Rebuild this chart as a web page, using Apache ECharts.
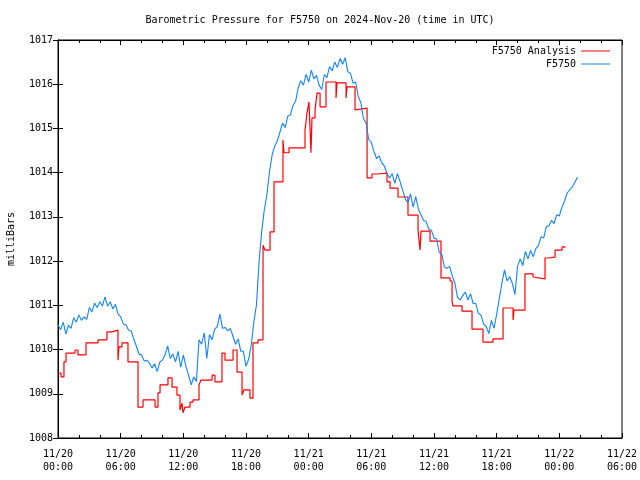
<!DOCTYPE html>
<html>
<head>
<meta charset="utf-8">
<script src="https://cdn.jsdelivr.net/npm/echarts@6/dist/echarts.min.js"></script>
<style>html,body{margin:0;padding:0;background:#fff}#c{width:640px;height:480px}</style>
</head>
<body>
<div id="c"></div>
<script>
// Hours since 2024-11-20 00:00 UTC
var xTickHours = [0, 6, 12, 18, 24, 30, 36, 42, 48, 54];
var seriesNames = ['F5750 Analysis', 'F5750'];

// F5750 observations, every 15 minutes starting 11/20 00:00
var blueStepHours = 0.25;
var blueValues = [
1010.56,1010.45,1010.62,1010.35,1010.55,1010.48,1010.72,1010.62,1010.78,1010.66,
1010.74,1010.68,1010.95,1010.85,1011.05,1010.95,1011.08,1010.98,1011.19,1010.98,
1011.08,1010.92,1011.02,1010.80,1010.74,1010.58,1010.56,1010.44,1010.42,1010.24,
1010.08,1009.90,1009.88,1009.74,1009.76,1009.70,1009.58,1009.68,1009.50,1009.72,
1009.76,1009.88,1010.08,1009.80,1009.90,1009.72,1009.96,1009.60,1009.88,1009.62,
1009.42,1009.20,1009.38,1009.28,1010.22,1010.12,1010.38,1009.80,1010.34,1010.22,
1010.46,1010.52,1010.80,1010.48,1010.50,1010.42,1010.48,1010.30,1010.12,1010.24,
1009.96,1009.96,1009.62,1009.78,1010.10,1010.62,1011.01,1011.98,1012.66,1013.16,
1013.50,1014.02,1014.40,1014.60,1014.72,1014.92,1015.12,1015.02,1015.28,1015.30,
1015.52,1015.62,1015.92,1016.08,1015.98,1016.22,1016.05,1016.32,1016.12,1016.20,
1015.98,1015.88,1016.22,1016.15,1016.40,1016.30,1016.50,1016.38,1016.58,1016.45,
1016.60,1016.28,1016.25,1016.02,1016.05,1015.72,1015.58,1015.22,1015.12,1014.75,
1014.68,1014.48,1014.32,1014.38,1014.22,1014.15,1013.98,1013.88,1013.98,1013.76,
1013.98,1013.80,1013.60,1013.40,1013.32,1013.52,1013.22,1013.46,1013.18,1013.05,
1012.92,1012.90,1012.72,1012.70,1012.52,1012.50,1012.20,1012.15,1011.86,1011.84,
1011.88,1011.66,1011.50,1011.18,1011.12,1011.22,1011.30,1011.12,1011.26,1011.04,
1011.04,1010.82,1010.78,1010.58,1010.52,1010.36,1010.66,1010.48,1010.80,1011.15,
1011.50,1011.80,1011.55,1011.65,1011.50,1011.24,1011.88,1012.05,1011.90,1012.22,
1012.05,1012.24,1012.10,1012.28,1012.35,1012.55,1012.52,1012.78,1012.80,1012.92,
1012.85,1013.05,1013.02,1013.22,1013.36,1013.54,1013.61,1013.68,1013.79,1013.90
];

// F5750 Analysis (stepped): change times (hours) and values
var redHours = [
0.00,0.29,0.57,0.77,1.63,1.91,2.68,3.83,4.69,5.17,5.74,5.84,6.13,6.70,7.66,8.14,
9.29,9.57,9.77,10.53,10.92,11.39,11.68,11.87,11.97,12.16,12.64,12.93,13.50,13.69,
14.75,15.03,15.70,15.99,16.76,17.14,17.62,17.81,18.38,18.67,19.15,19.63,19.82,
20.30,20.68,21.54,21.64,22.12,23.65,23.84,24.03,24.22,24.32,24.61,24.80,25.09,
25.66,26.62,26.71,27.58,27.67,28.44,28.63,29.59,30.06,30.64,31.50,31.79,32.55,
33.51,34.47,34.66,34.76,35.62,36.67,37.53,37.73,37.82,38.68,39.64,40.69,41.65,
42.61,43.57,43.66,44.71,45.48,45.67,46.63,46.92,47.59,48.26,48.54
];
var redValues = [
1009.47,1009.38,1009.72,1009.92,1009.99,1009.88,1010.15,1010.22,1010.40,1010.44,1009.76,1010.06,1010.15,1009.72,1008.70,1008.86,
1008.70,1009.02,1009.20,1009.36,1009.15,1008.97,1008.63,1008.79,1008.57,1008.70,1008.81,1008.86,1009.20,1009.31,
1009.42,1009.27,1009.92,1009.76,1009.99,1009.49,1008.97,1009.09,1008.90,1010.15,1010.22,1012.36,1012.25,
1012.66,1013.79,1014.74,1014.45,1014.56,1014.97,1015.35,1015.60,1014.45,1015.24,1015.42,1015.80,1015.49,
1016.05,1015.69,1016.03,1015.69,1015.94,1015.42,1015.46,1013.88,1013.97,1013.99,1013.79,1013.65,1013.45,
1013.04,1012.70,1012.25,1012.68,1012.45,1011.62,1011.55,1011.08,1010.99,1010.87,1010.46,1010.17,1010.24,
1010.94,1010.67,1010.89,1011.71,1011.64,1011.60,1012.07,1012.09,1012.25,1012.32,1012.30
];

var blueData = blueValues.map(function (v, i) { return [i * blueStepHours, v]; });
var redData = redHours.map(function (h, i) { return [h, redValues[i]]; });

var FONT = 'DejaVu Sans Mono';
function pad(n) { return (n < 10 ? '0' : '') + n; }
function fmtX(h) {
  var day = 20 + Math.floor(h / 24);
  var hh = h % 24;
  return '11/' + day + '\n' + pad(hh) + ':00';
}

var chart = echarts.init(document.getElementById('c'), null, { renderer: 'canvas' });
var txt = { fontFamily: FONT, fontSize: 10, color: '#000' };
chart.setOption({
  animation: false,
  backgroundColor: '#fff',
  title: {
    text: 'Barometric Pressure for F5750 on 2024-Nov-20 (time in UTC)',
    left: 'center', top: 10,
    textStyle: { fontFamily: FONT, fontSize: 10, fontWeight: 'normal', color: '#000' }
  },
  legend: [
    { data: [seriesNames[0]], right: 30, top: 46, align: 'right', icon: 'rect', itemWidth: 29, itemHeight: 1,
      textStyle: txt, padding: 0, selectedMode: false },
    { data: [seriesNames[1]], right: 30, top: 59, align: 'right', icon: 'rect', itemWidth: 29, itemHeight: 1,
      textStyle: txt, padding: 0, selectedMode: false }
  ],
  grid: { left: 58, right: 18, top: 40, bottom: 42, show: true, borderColor: '#000', borderWidth: 1, outerBoundsMode: 'none' },
  xAxis: [
    { type: 'value', min: xTickHours[0], max: xTickHours[xTickHours.length - 1], interval: 6, position: 'bottom',
      axisLine: { show: true, lineStyle: { color: '#000', width: 1 } },
      axisTick: { show: true, inside: true, length: 5, lineStyle: { color: '#000' } },
      minorTick: { show: true, splitNumber: 3, length: 3, lineStyle: { color: '#000' } },
      splitLine: { show: false },
      axisLabel: { formatter: fmtX, margin: 10, fontFamily: FONT, fontSize: 10, color: '#000', lineHeight: 13 } },
    { type: 'value', min: xTickHours[0], max: xTickHours[xTickHours.length - 1], interval: 6, position: 'top',
      axisLine: { show: true, lineStyle: { color: '#000', width: 1 } },
      axisTick: { show: true, inside: true, length: 5, lineStyle: { color: '#000' } },
      minorTick: { show: true, splitNumber: 3, length: 3, lineStyle: { color: '#000' } },
      splitLine: { show: false }, axisLabel: { show: false } }
  ],
  yAxis: [
    { type: 'value', min: 1008, max: 1017, interval: 1, position: 'left',
      name: 'milliBars', nameLocation: 'middle', nameGap: 42, nameRotate: 90,
      nameTextStyle: { fontFamily: FONT, fontSize: 10, color: '#000' },
      axisLine: { show: true, lineStyle: { color: '#000', width: 1 } },
      axisTick: { show: true, inside: true, length: 5, lineStyle: { color: '#000' } },
      splitLine: { show: false },
      axisLabel: { margin: 5, fontFamily: FONT, fontSize: 10, color: '#000', formatter: function (v) { return String(v); } } },
    { type: 'value', min: 1008, max: 1017, interval: 1, position: 'right',
      axisLine: { show: true, lineStyle: { color: '#000', width: 1 } },
      axisTick: { show: true, inside: true, length: 5, lineStyle: { color: '#000' } },
      splitLine: { show: false }, axisLabel: { show: false } }
  ],
  series: [
    { name: seriesNames[0], type: 'line', data: redData, step: 'end', symbol: 'none',
      lineStyle: { color: '#ff0000', width: 1.2 }, itemStyle: { color: '#ff0000' } },
    { name: seriesNames[1], type: 'line', data: blueData, symbol: 'none',
      lineStyle: { color: '#1184ff', width: 1.1 }, itemStyle: { color: '#1184ff' } }
  ]
});
</script>
</body>
</html>
